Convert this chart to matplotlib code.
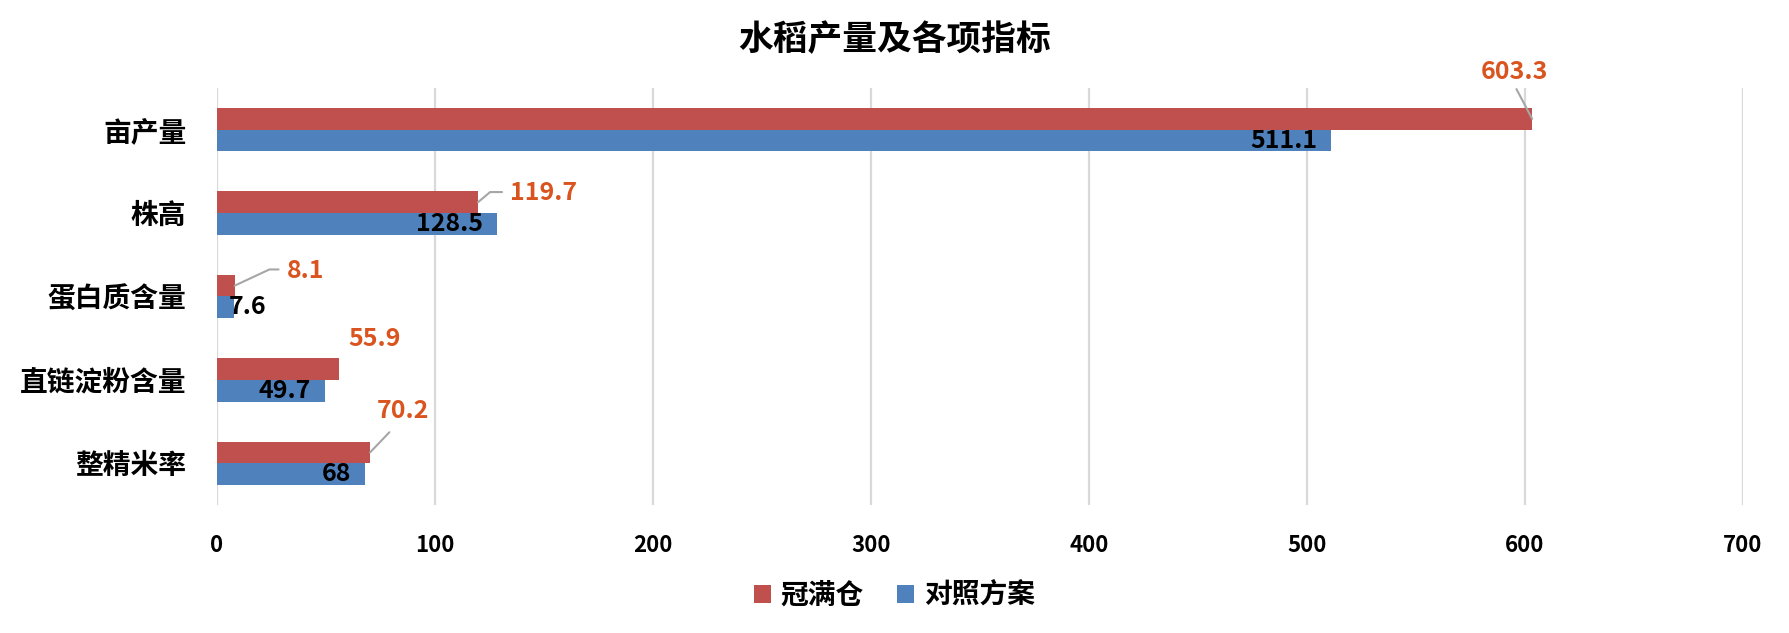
import matplotlib
matplotlib.use("Agg")
import matplotlib.pyplot as plt
from matplotlib.patches import Patch
import numpy as np

plt.rcParams['font.family'] = ['Noto Sans CJK SC', 'DejaVu Sans']

# ---- data ----
title = "水稻产量及各项指标"
categories = ["亩产量", "株高", "蛋白质含量", "直链淀粉含量", "整精米率"]
series_names = ["冠满仓", "对照方案"]
guanmancang = [603.3, 119.7, 8.1, 55.9, 70.2]
duizhao = [511.1, 128.5, 7.6, 49.7, 68]
x_ticks = [0, 100, 200, 300, 400, 500, 600, 700]

# ---- style ----
RED = "#C0504D"
BLUE = "#4F81BD"
LABEL_ORANGE = "#D9541E"
GRID = "#D9D9D9"
LEADER = "#A6A6A6"

# layout for the red-series data labels (pixel offsets from bar end)
red_dx = [-18, 66, 71, 36, 33]
red_dy = [47, 9, 15, 30, 41]
leader_style = [
    dict(relpos=(0.47, 0.12), connectionstyle="arc3", shrinkA=2),
    dict(relpos=(0.0, 0.55), connectionstyle="angle,angleA=0,angleB=40,rad=0", shrinkA=4),
    dict(relpos=(0.0, 0.55), connectionstyle="angle,angleA=0,angleB=25,rad=0", shrinkA=4),
    None,
    dict(relpos=(0.4, 0.0), connectionstyle="arc3", shrinkA=6),
]

W, H, DPI = 1789, 633, 100
fig = plt.figure(figsize=(W / DPI, H / DPI), dpi=DPI)
ax_l, ax_r, ax_t, ax_b = 217, 1743, 88, 505
ax = fig.add_axes([ax_l / W, 1 - ax_b / H, (ax_r - ax_l) / W, (ax_b - ax_t) / H])

y = np.arange(len(categories))
bh = 0.26
ax.barh(y - bh / 2, guanmancang, height=bh, color=RED, zorder=3)
ax.barh(y + bh / 2, duizhao, height=bh, color=BLUE, zorder=3)

ax.set_xlim(0, 700)
ax.set_ylim(len(categories) - 0.5, -0.5)
ax.set_xticks(x_ticks)
ax.set_xticklabels([str(v) for v in x_ticks], fontsize=16, fontweight="bold")
ax.set_yticks(y)
ax.set_yticklabels(categories, fontsize=20, fontweight="bold")
ax.tick_params(axis="x", length=0, pad=21)
ax.tick_params(axis="y", length=0, pad=22)
for s in ax.spines.values():
    s.set_visible(False)
ax.xaxis.grid(True, color=GRID, linewidth=1.6, zorder=0)
ax.yaxis.grid(False)
ax.set_axisbelow(True)

# blue data labels (inside end)
for i, v in enumerate(duizhao):
    if v < 20:
        ax.annotate(str(v), xy=(0, y[i] + bh / 2), xytext=(12, 0), textcoords="offset pixels",
                    ha="left", va="center", fontsize=18, fontweight="bold", color="black", zorder=5)
    else:
        ax.annotate(str(v), xy=(v, y[i] + bh / 2), xytext=(-14, 0), textcoords="offset pixels",
                    ha="right", va="center", fontsize=18, fontweight="bold", color="black", zorder=5)

# red data labels with leader lines
for i, v in enumerate(guanmancang):
    ls = leader_style[i]
    kw = {}
    if ls is not None:
        kw["arrowprops"] = dict(arrowstyle="-", color=LEADER, lw=1.5, shrinkB=0,
                                relpos=ls["relpos"], shrinkA=ls["shrinkA"],
                                connectionstyle=ls["connectionstyle"])
    ax.annotate(str(v), xy=(v, y[i] - bh / 2), xytext=(red_dx[i], red_dy[i]),
                textcoords="offset pixels", ha="center", va="center",
                fontsize=18, fontweight="bold", color=LABEL_ORANGE, zorder=5, **kw)

fig.text(0.5, 1 - 40 / H, title, ha="center", va="center", fontsize=25, fontweight="bold")

handles = [Patch(facecolor=RED, edgecolor="none"), Patch(facecolor=BLUE, edgecolor="none")]
fig.legend(handles, series_names, loc="center", bbox_to_anchor=(0.5, 1 - 596 / H), ncol=2,
           frameon=False, prop=dict(size=20, weight="bold"),
           handlelength=0.6, handleheight=0.6, handletextpad=0.35, columnspacing=1.2)

fig.savefig("out.png", dpi=DPI, facecolor="white")
